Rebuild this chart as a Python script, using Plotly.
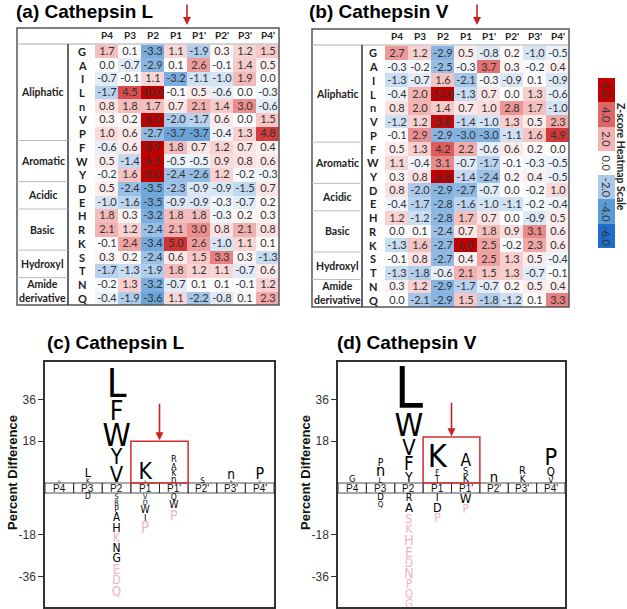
import plotly.graph_objects as go

W, H = 627, 609

positions = ["P4", "P3", "P2", "P1", "P1'", "P2'", "P3'", "P4'"]
residues = ["G", "A", "I", "L", "n", "V", "P", "F", "W", "Y", "D", "E", "H", "R", "K", "S", "T", "N", "Q"]
group_names = ["Aliphatic", "Aromatic", "Acidic", "Basic", "Hydroxyl", "Amide<br>derivative"]
group_first = [0, 7, 10, 12, 15, 17]
group_last = [6, 9, 11, 14, 16, 18]

zscore_catL = [
    [1.7, 0.1, -3.3, 1.1, -1.9, 0.3, 1.2, 1.5],
    [0.0, -0.7, -2.9, 0.1, 2.6, -0.1, 1.4, 0.5],
    [-0.7, -0.1, 1.1, -3.2, -1.1, -1.0, 1.9, 0.0],
    [-1.7, 4.5, 10.0, -0.1, 0.5, -0.6, 0.0, -0.3],
    [0.8, 1.8, 1.7, 0.7, 2.1, 1.4, 3.0, -0.6],
    [0.3, 0.2, 6.0, -2.0, -1.7, 0.6, 0.0, 1.5],
    [1.0, 0.6, -2.7, -3.7, -3.7, -0.4, 1.3, 4.8],
    [-0.6, 0.6, 8.9, 1.8, 0.7, 1.2, 0.7, 0.4],
    [0.5, -1.4, 6.3, -0.5, -0.5, 0.9, 0.8, 0.6],
    [-0.2, 1.6, 8.0, -2.4, -2.6, 1.2, -0.2, -0.3],
    [0.5, -2.4, -3.5, -2.3, -0.9, -0.9, -1.5, 0.7],
    [-1.0, -1.6, -3.5, -0.9, -0.9, -0.3, -0.7, 0.2],
    [1.8, 0.3, -3.2, 1.8, 1.8, -0.3, 0.2, 0.3],
    [2.1, 1.2, -2.4, 2.1, 3.0, 0.8, 2.1, 0.8],
    [-0.1, 2.4, -3.4, 5.0, 2.6, -1.0, 1.1, 0.1],
    [0.3, 0.2, -2.4, 0.6, 1.5, 3.3, 0.3, -1.3],
    [-1.7, -1.3, -1.9, 1.8, 1.2, 1.1, -0.7, 0.6],
    [-0.2, 1.3, -3.2, -0.7, 0.1, 0.1, -0.1, 1.2],
    [-0.4, -1.9, -3.6, 1.1, -2.2, -0.8, 0.1, 2.3],
]

zscore_catV = [
    [2.7, 1.2, -2.9, 0.5, -0.8, 0.2, -1.0, -0.5],
    [-0.3, -0.2, -2.5, -0.3, 3.7, 0.3, -0.2, 0.4],
    [-1.3, -0.7, 1.6, -2.1, -0.3, -0.9, 0.1, -0.9],
    [-0.4, 2.0, 13.0, -1.3, 0.7, 0.0, 1.3, -0.6],
    [0.8, 2.0, 1.4, 0.7, 1.0, 2.8, 1.7, -1.0],
    [-1.2, 1.2, 5.8, -1.4, -1.0, 1.3, 0.5, 2.3],
    [-0.1, 2.9, -2.9, -3.0, -3.0, -1.1, 1.6, 4.9],
    [0.5, 1.3, 4.2, 2.2, -0.6, 0.6, 0.2, 0.0],
    [1.1, -0.4, 3.1, -0.7, -1.7, -0.1, -0.3, -0.5],
    [0.3, 0.8, 6.8, -1.4, -2.4, 0.2, 0.4, -0.5],
    [0.8, -2.0, -2.9, -2.7, -0.7, 0.0, -0.2, 1.0],
    [-0.4, -1.7, -2.8, -1.6, -1.0, -1.1, -0.2, -0.4],
    [1.2, -1.2, -2.8, 1.7, 0.7, 0.0, -0.9, 0.5],
    [0.0, 0.1, -2.4, 0.7, 1.8, 0.9, 3.1, 0.6],
    [-1.3, 1.6, -2.7, 6.8, 2.5, -0.2, 2.3, 0.6],
    [-0.1, 0.8, -2.7, 0.4, 2.5, 1.3, 0.5, -0.4],
    [-1.3, -1.8, -0.6, 2.1, 1.5, 1.3, -0.7, -0.1],
    [0.3, 1.2, -2.9, -1.7, -0.7, 0.2, 0.5, 0.4],
    [0.0, -2.1, -2.9, 1.5, -1.8, -1.2, 0.1, 3.3],
]

scale_ticks = [6.0, 4.0, 2.0, 0.0, -2.0, -4.0, -6.0]

# logo stacks: (letter, percent difference height, unobserved flag)
# "up" stacks listed from the baseline upward, "down" stacks from the band downward
logoL_up = [
    [("n", 1.2, 0)],
    [("K", 2.3, 0), ("L", 4.5, 0)],
    [("V", 7.8, 0), ("Y", 7.5, 0), ("W", 11.4, 0), ("F", 9.5, 0), ("L", 14.2, 0)],
    [("R", 1.2, 0), ("K", 8.2, 0)],
    [("n", 2.6, 0), ("K", 2.9, 0), ("A", 3.3, 0), ("R", 3.3, 0)],
    [("S", 2.9, 0)],
    [("R", 1.3, 0), ("n", 3.6, 0)],
    [("Q", 1.3, 0), ("P", 5.7, 0)],
]
logoL_down = [
    [],
    [("D", 3.0, 0)],
    [("S", 2.8, 0), ("R", 2.6, 0), ("P", 3.0, 0), ("A", 4.1, 0), ("H", 4.5, 0), ("K", 4.3, 1),
     ("N", 4.3, 0), ("G", 4.5, 0), ("E", 5.0, 1), ("D", 4.5, 1), ("Q", 5.0, 1)],
    [("V", 2.6, 0), ("D", 2.6, 0), ("W", 3.7, 0), ("I", 3.4, 0), ("P", 5.4, 1)],
    [("Q", 3.2, 0), ("W", 3.7, 0), ("P", 5.0, 1)],
    [], [], [],
]
logoV_up = [
    [("G", 3.5, 0)],
    [("L", 2.8, 0), ("n", 4.3, 0), ("P", 3.7, 0)],
    [("Y", 5.0, 0), ("F", 6.7, 0), ("V", 7.8, 0), ("W", 11.6, 0), ("L", 20.3, 0)],
    [("T", 3.2, 0), ("F", 2.8, 0), ("K", 11.6, 0)],
    [("K", 3.7, 0), ("S", 3.4, 0), ("A", 6.2, 0)],
    [("n", 3.9, 0)],
    [("K", 3.4, 0), ("R", 3.9, 0)],
    [("V", 2.8, 0), ("Q", 4.3, 0), ("P", 8.4, 0)],
]
logoV_down = [
    [],
    [("D", 3.4, 0), ("Q", 3.0, 0)],
    [("R", 3.7, 0), ("A", 4.7, 0), ("S", 4.7, 1), ("K", 4.5, 1), ("H", 5.2, 1), ("E", 5.0, 1),
     ("D", 4.3, 1), ("N", 5.0, 1), ("P", 4.3, 1), ("Q", 4.3, 1), ("G", 4.3, 1)],
    [("I", 3.9, 0), ("D", 4.5, 0), ("P", 4.5, 1)],
    [("W", 4.7, 0), ("P", 4.3, 1)],
    [], [], [],
]
box_top_L = 18.0
box_top_V = 19.8
logo_ticks = [36, 18, -18, -36]


def px(x):
    return x / W


def py(y):
    return 1 - y / H


colorscale = [[0.0, "#1f6fc8"], [1 / 6, "#5b9bd5"], [2 / 6, "#abc9eb"], [0.5, "#ffffff"],
              [4 / 6, "#f4b4b4"], [5 / 6, "#e06666"], [1.0, "#c00000"]]

NUMFONT = "Lato, Open Sans, sans-serif"
LOGOFONT = "Liberation Sans Narrow, DejaVu Sans Condensed, Liberation Sans, Arial, sans-serif"
ARIAL = "Liberation Sans, Arial, sans-serif"

# logo axis geometry
PXU = 2.32                      # pixels per percent unit
GB = 5 / PXU                    # half height of the position band
YMAX = (483 - 362) / PXU + GB
YMIN = -((607 - 493) / PXU + GB)

fig = go.Figure()

for z, xa, ya in [(zscore_catL, "x", "y"), (zscore_catV, "x2", "y2")]:
    fig.add_trace(go.Heatmap(
        z=z, x=list(range(len(positions))), y=list(range(len(residues))),
        colorscale=colorscale, zmin=-6, zmax=6, showscale=False,
        texttemplate="%{z:.1f}", textfont=dict(family=NUMFONT, size=11, color="#333"),
        xaxis=xa, yaxis=ya, hoverinfo="skip"))

fig.add_trace(go.Heatmap(
    z=[[v] for v in scale_ticks], x=[0], y=list(range(len(scale_ticks))),
    colorscale=colorscale, zmin=-6, zmax=6, showscale=False,
    xaxis="x5", yaxis="y5", hoverinfo="skip"))


def glyph_ratio(ch):
    if ch == "n":
        return 0.53
    if ch in "GQSOC":
        return 0.75
    return 0.716


def logo_trace(up, down, xa, ya):
    xs, ys, ts, ss, cs = [], [], [], [], []

    def add(i, letter, h, bottom, flag):
        slot_px = h * PXU
        fs = 0.86 * slot_px / glyph_ratio(letter)
        base = bottom + 0.07 * h
        xs.append(i)
        ys.append(base + 0.25 * fs / PXU)
        ts.append(letter)
        ss.append(fs)
        cs.append("#f5b3c3" if flag else "#000000")

    for i, stack in enumerate(up):
        b = GB
        for letter, h, flag in stack:
            add(i, letter, h, b, flag)
            b += h
    for i, stack in enumerate(down):
        t = -GB
        for letter, h, flag in stack:
            add(i, letter, h, t - h, flag)
            t -= h
    return go.Scatter(x=xs, y=ys, text=ts, mode="text", textposition="middle center",
                      textfont=dict(family=LOGOFONT, size=ss, color=cs),
                      xaxis=xa, yaxis=ya, hoverinfo="skip", cliponaxis=True)


fig.add_trace(logo_trace(logoL_up, logoL_down, "x3", "y3"))
fig.add_trace(logo_trace(logoV_up, logoV_down, "x4", "y4"))

shapes = []
annotations = []


def ann(**kw):
    kw.setdefault("showarrow", False)
    kw.setdefault("xanchor", "center")
    kw.setdefault("yanchor", "middle")
    annotations.append(kw)


tables = [
    dict(xa="x", ya="y", left=17, sep=68, right=279, top=28, hline=44, bottom=305,
         letter_x=82, group_x=42.5, head_y=35.5, title="(a) Cathepsin L", title_x=14),
    dict(xa="x2", ya="y2", left=312, sep=362, right=569, top=29, hline=45, bottom=307,
         letter_x=373, group_x=337, head_y=36, title="(b) Cathepsin V", title_x=307),
]
for t in tables:
    shapes.append(dict(type="rect", xref="paper", yref="paper", x0=px(t["left"]), x1=px(t["right"]),
                       y0=py(t["bottom"]), y1=py(t["top"]), line=dict(color="#555", width=1.5)))
    shapes.append(dict(type="line", xref="paper", yref="paper", x0=px(t["left"]), x1=px(t["right"]),
                       y0=py(t["hline"]), y1=py(t["hline"]), line=dict(color="#aaa", width=1)))
    shapes.append(dict(type="line", xref="paper", yref="paper", x0=px(t["sep"]), x1=px(t["sep"]),
                       y0=py(t["bottom"]), y1=py(t["hline"]), line=dict(color="#333", width=1.5)))
    for gl in group_last[:-1]:
        shapes.append(dict(type="line", xref="paper", yref=t["ya"], x0=px(t["left"]), x1=px(t["sep"]),
                           y0=gl + 0.5, y1=gl + 0.5, line=dict(color="#bbb", width=1)))
    for i, p in enumerate(positions):
        ann(x=i, xref=t["xa"], y=py(t["head_y"]), yref="paper", text="<b>%s</b>" % p,
            font=dict(family=NUMFONT, size=10, color="#222"))
    for j, r in enumerate(residues):
        ann(x=px(t["letter_x"]), xref="paper", y=j, yref=t["ya"], text="<b>%s</b>" % r,
            font=dict(family=NUMFONT, size=11, color="#222"))
    for g, a, b in zip(group_names, group_first, group_last):
        ann(x=px(t["group_x"]), xref="paper", y=(a + b) / 2, yref=t["ya"], text="<b>%s</b>" % g,
            font=dict(family=NUMFONT, size=10.5, color="#222"))
    ann(x=px(t["title_x"]), xref="paper", y=py(12), yref="paper", xanchor="left",
        text="<b>%s</b>" % t["title"], font=dict(family=ARIAL, size=19, color="#000"))
    ann(x=3.5, xref=t["xa"], y=py(25), yref="paper", ax=0, ay=-22, text="",
        showarrow=True, arrowhead=2, arrowsize=1, arrowwidth=1.6, arrowcolor="#cc2020")

for j, v in enumerate(scale_ticks):
    ann(x=0, xref="x5", y=j, yref="y5", text="%.1f" % v, textangle=90,
        font=dict(family=NUMFONT, size=11, color="#333"))
ann(x=px(621), xref="paper", y=py(157), yref="paper", text="<b>Z-score Heatmap Scale</b>",
    textangle=90, font=dict(family=NUMFONT, size=10.5, color="#222"))

logos = [
    dict(xa="x3", ya="y3", title="(c) Cathepsin L", title_x=45, label_x=12, box_top=box_top_L, ay=-38),
    dict(xa="x4", ya="y4", title="(d) Cathepsin V", title_x=335, label_x=305, box_top=box_top_V, ay=-35),
]
for lg in logos:
    for i, p in enumerate(positions):
        shapes.append(dict(type="rect", xref=lg["xa"], yref=lg["ya"], x0=i - 0.5, x1=i + 0.5, y0=-GB, y1=GB,
                           line=dict(color="#222", width=0.8)))
        ann(x=i, xref=lg["xa"], y=0, yref=lg["ya"], text=p, font=dict(family=ARIAL, size=10, color="#111"))
    shapes.append(dict(type="rect", xref=lg["xa"], yref=lg["ya"], x0=2.5, x1=4.5, y0=GB, y1=lg["box_top"] + GB,
                       line=dict(color="#d42c2c", width=1.5)))
    ann(x=3.5, xref=lg["xa"], y=lg["box_top"] + GB + 0.4, yref=lg["ya"], ax=0, ay=lg["ay"],
        text="", showarrow=True, arrowhead=2, arrowsize=1, arrowwidth=1.6, arrowcolor="#cc2020")
    ann(x=px(lg["title_x"]), xref="paper", y=py(342), yref="paper", xanchor="left",
        text="<b>%s</b>" % lg["title"], font=dict(family=ARIAL, size=19, color="#000"))
    ann(x=px(lg["label_x"]), xref="paper", y=py(473), yref="paper",
        text="<b>Percent Difference</b>", textangle=-90, font=dict(family=ARIAL, size=13, color="#111"))

hidden = dict(visible=False, fixedrange=True)
logo_y = dict(range=[YMIN, YMAX], tickvals=[v + GB if v > 0 else v - GB for v in logo_ticks],
              ticktext=[str(v) for v in logo_ticks], ticks="outside", ticklen=5, tickcolor="#333",
              tickfont=dict(family=ARIAL, size=12, color="#333"), showline=True, mirror=True,
              linecolor="#333", linewidth=1.5, showgrid=False, zeroline=False, fixedrange=True)
logo_x = dict(range=[-0.5, 7.5], showticklabels=False, ticks="", showline=True, mirror=True,
              linecolor="#333", linewidth=1.5, showgrid=False, zeroline=False, fixedrange=True)

fig.update_layout(
    width=W, height=H, margin=dict(l=0, r=0, t=0, b=0),
    paper_bgcolor="white", plot_bgcolor="white", showlegend=False,
    xaxis=dict(domain=[px(95), px(279)], range=[-0.5, 7.5], anchor="y", **hidden),
    yaxis=dict(domain=[py(305), py(44.5)], range=[18.5, -0.5], anchor="x", **hidden),
    xaxis2=dict(domain=[px(385), px(569)], range=[-0.5, 7.5], anchor="y2", **hidden),
    yaxis2=dict(domain=[py(307), py(46)], range=[18.5, -0.5], anchor="x2", **hidden),
    xaxis5=dict(domain=[px(598), px(615)], range=[-0.5, 0.5], anchor="y5", **hidden),
    yaxis5=dict(domain=[py(248), py(78)], range=[6.5, -0.5], anchor="x5", **hidden),
    xaxis3=dict(domain=[px(45), px(274)], anchor="y3", **logo_x),
    yaxis3=dict(domain=[py(607), py(362)], anchor="x3", **logo_y),
    xaxis4=dict(domain=[px(338), px(565)], anchor="y4", **logo_x),
    yaxis4=dict(domain=[py(607), py(362)], anchor="x4", **logo_y),
    shapes=shapes, annotations=annotations,
)

fig.write_html("out.html", config={"displayModeBar": False},
               post_script="document.body.style.margin='0';")
